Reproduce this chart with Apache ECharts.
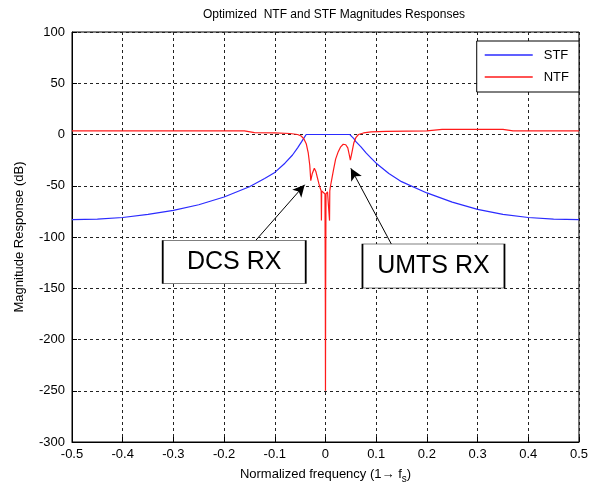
<!DOCTYPE html>
<html>
<head>
<meta charset="utf-8">
<script src="https://cdn.jsdelivr.net/npm/echarts@6/dist/echarts.min.js"></script>
<style>html,body{margin:0;padding:0;background:#fff}#c{width:591px;height:490px}</style>
</head>
<body>
<div id="c"></div>
<script>
// ---- data ----
const stfFreq = [-0.5, -0.45, -0.4, -0.35, -0.3, -0.25, -0.2, -0.15, -0.12, -0.1, -0.08, -0.065, -0.055, -0.047, -0.042, -0.038, 0.0, 0.048, 0.052, 0.056, 0.06, 0.07, 0.08, 0.09, 0.1, 0.125, 0.15, 0.2, 0.25, 0.3, 0.35, 0.4, 0.45, 0.5];
const stfMag  = [-83, -82.5, -81, -78, -74, -68.5, -61, -51, -43, -37, -28, -20, -13, -7, -3, 0, 0, 0, -2, -4, -7, -12, -18, -23, -28, -38, -46, -57, -66, -73, -78, -81, -82.5, -83];

const ntfFreq = [-0.5, -0.4, -0.3, -0.2, -0.16, -0.14, -0.1, -0.07, -0.055, -0.048, -0.043, -0.038, -0.034, -0.031, -0.029, -0.026, -0.022, -0.019, -0.016, -0.013, -0.010, -0.0085, -0.008, -0.0075, -0.004, -0.001, -0.0003, 0, 0.0003, 0.001, 0.004, 0.0075, 0.008, 0.0085, 0.010, 0.013, 0.016, 0.020, 0.025, 0.030, 0.035, 0.040, 0.044, 0.047, 0.049, 0.052, 0.056, 0.060, 0.065, 0.075, 0.09, 0.12, 0.2, 0.23, 0.35, 0.37, 0.4, 0.5];
const ntfMag  = [3.5, 3.5, 3.5, 3.5, 3.5, 1.8, 1.5, 1, 0, -1.5, -4, -9, -18, -30, -45, -38, -33, -36, -42, -48, -53, -55, -84, -55, -56, -58, -163, -250, -163, -58, -56, -55, -84, -55, -50, -42, -34, -24, -17, -12, -9.5, -10, -13, -20, -25, -18, -8, -3, 0, 1.5, 2.5, 3, 3.5, 5, 5, 3.5, 3.5, 3.5];

const xTicks = [-0.5, -0.4, -0.3, -0.2, -0.1, 0, 0.1, 0.2, 0.3, 0.4, 0.5];
const yTicks = [-300, -250, -200, -150, -100, -50, 0, 50, 100];

// annotations (data units)
const annoLabels = ['DCS RX', 'UMTS RX'];
const annoBoxAt  = [[-0.18, -124.4], [0.213, -128.3]];
const annoArrowFrom = [[-0.137, -103], [0.130, -107]];
const annoArrowTo   = [[-0.041, -49], [0.050, -33]];

// ---- chart ----
const FONT = 'Liberation Sans, Arial, sans-serif';
const chart = echarts.init(document.getElementById('c'), null, {renderer: 'canvas'});
const pair = (xs, ys) => xs.map((x, i) => [x, ys[i]]);

const gridLine = {show: true, lineStyle: {color: '#222', width: 1, type: [3, 3]}};

chart.setOption({
  animation: false,
  backgroundColor: '#fff',
  title: {
    text: 'Optimized  NTF and STF Magnitudes Responses',
    left: 329, top: 4, textAlign: 'center',
    textStyle: {fontFamily: FONT, fontSize: 12, fontWeight: 'normal', color: '#000'}
  },
  grid: {left: 72, right: 8, top: 32, bottom: 48, show: true, borderColor: '#000', borderWidth: 1, backgroundColor: '#fff'},
  legend: {
    orient: 'vertical', right: 12, top: 41,
    icon: 'rect', itemWidth: 48, itemHeight: 1.5, itemGap: 8,
    padding: [7, 10, 8, 8],
    backgroundColor: '#fff', borderColor: '#000', borderWidth: 1, borderRadius: 0,
    textStyle: {fontFamily: FONT, fontSize: 13, color: '#000', padding: [0, 0, 0, 6], lineHeight: 14},
    data: ['STF', 'NTF']
  },
  xAxis: {
    type: 'value', min: xTicks[0], max: xTicks[xTicks.length - 1], interval: 0.1,
    axisLine: {show: true, onZero: false, lineStyle: {color: '#000'}},
    axisTick: {show: true, inside: true, length: 5, lineStyle: {color: '#000'}},
    axisLabel: {color: '#000', fontFamily: FONT, fontSize: 13, margin: 6,
      formatter: v => { const r = Math.round(v * 10) / 10; return String(r); }},
    splitLine: gridLine,
    name: 'Normalized frequency (1\u2192 f{s|s})',
    nameLocation: 'middle', nameGap: 22,
    nameTextStyle: {color: '#000', fontFamily: FONT, fontSize: 13,
      rich: {s: {fontFamily: FONT, fontSize: 10, color: '#000', padding: [10, 0, 0, 0]}}}
  },
  yAxis: {
    type: 'value', min: yTicks[0], max: yTicks[yTicks.length - 1], interval: 50,
    axisLine: {show: true, onZero: false, lineStyle: {color: '#000'}},
    axisTick: {show: true, inside: true, length: 5, lineStyle: {color: '#000'}},
    axisLabel: {color: '#000', fontFamily: FONT, fontSize: 13, margin: 7},
    splitLine: gridLine,
    name: 'Magnitude Response (dB)',
    nameLocation: 'middle', nameGap: 46, nameRotate: 90,
    nameTextStyle: {color: '#000', fontFamily: FONT, fontSize: 13}
  },
  series: [
    {
      name: 'STF', type: 'line', symbol: 'none', showSymbol: false,
      data: pair(stfFreq, stfMag),
      lineStyle: {color: '#2b2bff', width: 1.2}, itemStyle: {color: '#2b2bff'},
      z: 3
    },
    {
      name: 'NTF', type: 'line', symbol: 'none', showSymbol: false,
      data: pair(ntfFreq, ntfMag),
      lineStyle: {color: '#ff1a1a', width: 1.2}, itemStyle: {color: '#ff1a1a'},
      z: 4,
      markLine: {
        silent: true, symbol: ['none', 'arrow'], symbolSize: [9, 12],
        label: {show: false},
        lineStyle: {color: '#000', width: 1, type: 'solid'},
        data: annoArrowFrom.map((p, i) => [{coord: p}, {coord: annoArrowTo[i]}])
      },
      markPoint: {
        silent: true, symbol: 'rect',
        itemStyle: {color: '#fff', borderColor: '#000', borderWidth: 1},
        label: {show: true, position: 'inside', color: '#000', fontFamily: FONT, fontSize: 25},
        data: annoLabels.map((t, i) => ({
          coord: annoBoxAt[i], value: t,
          symbolSize: i === 0 ? [143, 43] : [142, 44],
          label: {formatter: t}
        }))
      }
    }
  ]
});
</script>
</body>
</html>
